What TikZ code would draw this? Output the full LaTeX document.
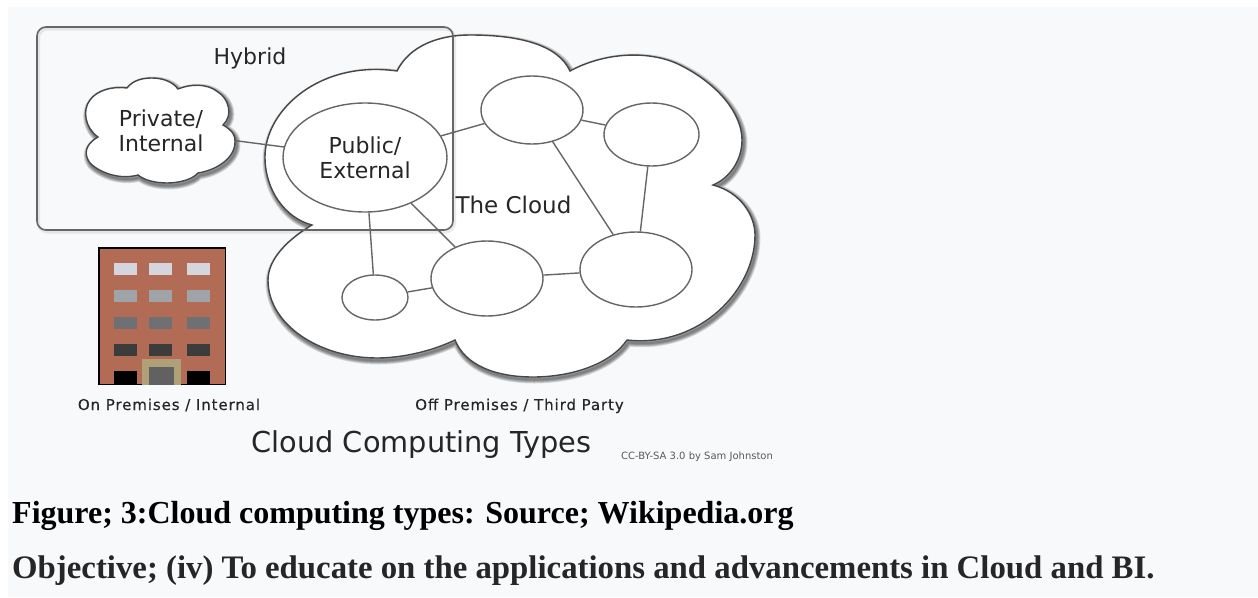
\documentclass[tikz,border=0pt]{standalone}
\usepackage{fontspec}
\usepackage{xcolor}
\usepackage{tikz}
\usetikzlibrary{shapes.geometric}
\setmainfont{DejaVu Sans}
\newfontfamily\captionfont{Liberation Serif}
\newfontfamily\smalllabelfont[LetterSpace=6,FakeBold=0.35]{DejaVu Sans}
\definecolor{pagebg}{HTML}{F8F9FB}
\definecolor{edgegray}{HTML}{666666}
\definecolor{brick}{HTML}{B26C55}
\definecolor{doorframe}{HTML}{B0A078}
\newcommand{\bigcloudpath}{(397,71) .. controls (410,45) and (440,35) .. (470,35) .. controls (520,35) and (558,45) .. (570,71) .. controls (605,52) and (650,50) .. (680,65) .. controls (720,85) and (742,115) .. (742,140) .. controls (742,160) and (730,178) .. (713,185) .. controls (740,192) and (755,215) .. (755,235) .. controls (755,290) and (700,348) .. (627,340) .. controls (610,365) and (570,377) .. (533,377) .. controls (495,377) and (465,365) .. (455,340) .. controls (430,352) and (400,358) .. (377,358) .. controls (320,358) and (268,325) .. (268,280) .. controls (268,258) and (290,238) .. (312,225) .. controls (285,218) and (265,190) .. (265,157) .. controls (265,110) and (320,60) .. (397,71) -- cycle}
\newcommand{\privatecloudpath}{(127,88) .. controls (133,80) and (143,78) .. (152,78) .. controls (163,78) and (173,82) .. (178,89) .. controls (190,84) and (207,83) .. (218,92) .. controls (228,98) and (234,115) .. (223,125) .. controls (232,130) and (236,136) .. (235,142) .. controls (235,158) and (217,170) .. (198,173) .. controls (192,180) and (178,183) .. (167,183) .. controls (155,183) and (144,180) .. (138,175) .. controls (120,180) and (100,173) .. (90,163) .. controls (84,155) and (84,145) .. (98,137) .. controls (85,128) and (82,110) .. (90,100) .. controls (97,90) and (113,86) .. (127,88) -- cycle}
\tikzset{
    site/.style={ellipse, draw=edgegray, line width=1.4pt, fill=white, inner sep=0pt, align=center, font=\fontsize{22}{25}\selectfont, text=black!85},
    link/.style={draw=edgegray, line width=1.4pt},
    label/.style={inner sep=0pt, anchor=base, text=black!85},
    smalllabel/.style={label, font=\smalllabelfont\fontsize{15}{18}\selectfont},
    caption/.style={inner sep=0pt, anchor=base west},
    shadowline/.style={black, opacity=0.12, line join=round}
}

\begin{document}
\begin{tikzpicture}[x=1pt,y=-1pt]
    \useasboundingbox (0,0) rectangle (1258,597);
    \fill[pagebg] (8,7) rectangle (1258,597);

    % The big cloud and its shadow
    \foreach \w in {8,6.5,5,3.5,2} {
        \draw[shadowline, line width=\w pt, shift={(1.5,2.5)}] \bigcloudpath;
    }
    \draw[edgegray!70!black, line width=1.4pt, fill=white] \bigcloudpath;

    % The private cloud and its shadow
    \foreach \w in {8,6.5,5,3.5,2} {
        \draw[shadowline, line width=\w pt, shift={(1.5,2.5)}] \privatecloudpath;
    }
    \draw[edgegray!70!black, line width=1.4pt, fill=white] \privatecloudpath;
    \node[inner sep=0pt, minimum width=150pt, minimum height=70pt, align=center, font=\fontsize{22}{25}\selectfont, text=black!85] (private) at (161,131) {Private/\\Internal};

    % Sites inside the cloud
    \node[site, minimum width=164pt, minimum height=109pt] (public) at (365,157.5) {Public/\\External};
    \node[site, minimum width=102pt, minimum height=68pt] (siteA) at (532,110) {};
    \node[site, minimum width=95pt, minimum height=63pt] (siteB) at (651.5,134.5) {};
    \node[site, minimum width=112pt, minimum height=75pt] (siteC) at (636,269.5) {};
    \node[site, minimum width=112pt, minimum height=75pt] (siteD) at (487,278.5) {};
    \node[site, minimum width=66pt, minimum height=45pt] (siteE) at (375,297.5) {};

    % Links between the sites
    \draw[link] (private) -- (public);
    \draw[link] (public) -- (siteA);
    \draw[link] (siteA) -- (siteB);
    \draw[link] (siteA) -- (siteC);
    \draw[link] (siteB) -- (siteC);
    \draw[link] (siteD) -- (siteC);
    \draw[link] (public) -- (siteD);
    \draw[link] (public) -- (siteE);
    \draw[link] (siteE) -- (siteD);

    % Hybrid box
    \draw[black, opacity=0.08, line width=3pt, rounded corners=9pt] (38.5,29) rectangle (454.5,232);
    \draw[edgegray, line width=1.6pt, rounded corners=9pt] (37,27) rectangle (453,230);

    % Building
    \draw[black, line width=1.5pt, fill=brick] (99,248) rectangle (225.5,384.5);
    \foreach \y/\c in {263/D5D5DD, 290/A0A4A8, 317/6F7074, 344/3C3C3C} {
        \definecolor{wincol}{HTML}{\c}
        \foreach \x in {114,149,187} {
            \fill[wincol] (\x,\y) rectangle ++(23,12);
        }
    }
    \fill[black] (114,371) rectangle (137,384.5);
    \fill[black] (187,371) rectangle (210,384.5);
    \fill[doorframe] (142,359) rectangle (181,384.5);
    \fill[black!62] (149,367) rectangle (174,384.5);

    % Labels
    \node[label, font=\fontsize{22}{26}\selectfont] (hybrid) at (250,64) {Hybrid};
    \node[label, font=\fontsize{23}{27}\selectfont] (thecloud) at (513.5,213) {The Cloud};
    \node[smalllabel] (onprem) at (169,410) {On Premises / Internal};
    \node[smalllabel] (offprem) at (519.5,410) {Off Premises / Third Party};
    \node[label, font=\fontsize{28.8}{34}\selectfont] (title) at (421.5,452) {Cloud Computing Types};
    \node[label, font=\fontsize{10}{12}\selectfont, text=black!65] (credit) at (697,459) {CC-BY-SA 3.0 by Sam Johnston};

    % Text under the picture
    \node[caption, text=black, font=\captionfont\bfseries\fontsize{32}{36}\selectfont] (captionA) at (12,523) {Figure; 3:Cloud computing types: Source; Wikipedia.org};
    \node[caption, text=black!85, font=\captionfont\bfseries\fontsize{32.8}{36}\selectfont] (captionB) at (12,578) {Objective; (iv) To educate on the applications and advancements in Cloud and BI.};
\end{tikzpicture}
\end{document}
